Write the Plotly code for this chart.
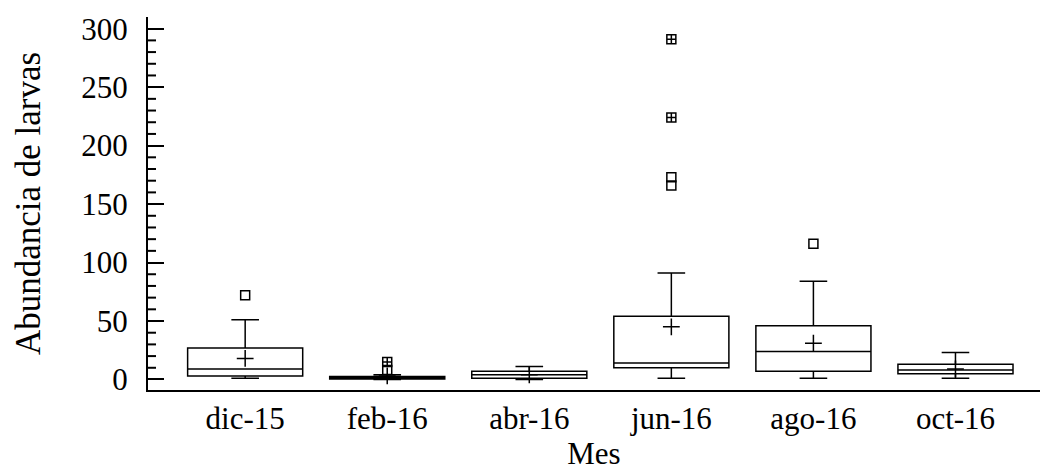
import plotly.graph_objects as go

months = ["dic-15", "feb-16", "abr-16", "jun-16", "ago-16", "oct-16"]
lower_fence = [1, 0, 0, 1, 1, 1]
q1 = [3, 0.5, 1, 10, 7, 5]
median = [9, 1, 4, 14, 24, 8]
q3 = [27, 2.5, 7, 54, 46, 13]
upper_fence = [51, 4, 11, 91, 84, 23]
means = [18, 3, 4, 45, 31, 9]
outlier_month = ["dic-15", "feb-16", "jun-16", "jun-16", "ago-16"]
outlier_value = [72, 8, 173, 166, 116]
far_month = ["feb-16", "jun-16", "jun-16"]
far_value = [15, 224, 291]
major_step = 50
minor_step = 10
y_max_tick = 300

pos = {m: i for i, m in enumerate(months)}
xs = [pos[m] for m in months]

FONT = "Liberation Serif, Times New Roman, serif"
Y_RANGE = [-9, 310]
W, H = 1040, 475
ML, MR, MT, MB = 148, 0, 17, 85
PLOT_W = W - ML - MR

fig = go.Figure()
fig.add_trace(go.Box(
    x=xs, q1=q1, median=median, q3=q3,
    lowerfence=lower_fence, upperfence=upper_fence,
    width=0.81, whiskerwidth=0.24,
    fillcolor="rgba(255,255,255,0)",
    line=dict(color="black", width=1.5),
    boxpoints=False, hoverinfo="skip", showlegend=False,
))
fig.add_trace(go.Scatter(
    x=xs, y=means, mode="markers",
    marker=dict(symbol="cross-thin", size=12, color="black",
                line=dict(color="black", width=1.5)),
    showlegend=False,
))
fig.add_trace(go.Scatter(
    x=[pos[m] for m in outlier_month], y=outlier_value, mode="markers",
    marker=dict(symbol="square-open", size=9, color="black",
                line=dict(color="black", width=1.5)),
    showlegend=False,
))
fig.add_trace(go.Scatter(
    x=[pos[m] for m in far_month], y=far_value, mode="markers",
    marker=dict(symbol="square-cross-open", size=9, color="black",
                line=dict(color="black", width=1.5)),
    showlegend=False,
))

# minor ticks on the y axis (every 10 units, between the major ticks)
minor_len = 8 / PLOT_W
for v in range(0, y_max_tick + 1, minor_step):
    if v % major_step == 0:
        continue
    fig.add_shape(type="line", xref="x domain", yref="y",
                  x0=0, x1=minor_len, y0=v, y1=v,
                  line=dict(color="black", width=2), layer="above")

fig.update_layout(
    width=W, height=H,
    margin=dict(l=ML, r=MR, t=MT, b=MB),
    paper_bgcolor="white", plot_bgcolor="white",
    font=dict(family=FONT, size=31, color="black"),
    xaxis=dict(
        range=[-0.684, 5.595],
        tickvals=xs, ticktext=months,
        showline=True, linecolor="black", linewidth=2,
        ticks="", showgrid=False, zeroline=False,
        ticklabelstandoff=0,
        title=dict(text="Mes", font=dict(size=31), standoff=6),
    ),
    yaxis=dict(
        range=Y_RANGE,
        tickmode="linear", tick0=0, dtick=major_step,
        showline=True, linecolor="black", linewidth=2,
        ticks="inside", ticklen=16, tickwidth=2, tickcolor="black",
        showgrid=False, zeroline=False,
        ticklabelstandoff=12,
        title=dict(text="Abundancia de larvas", font=dict(size=35), standoff=30),
    ),
)

fig.write_html("out.html")
